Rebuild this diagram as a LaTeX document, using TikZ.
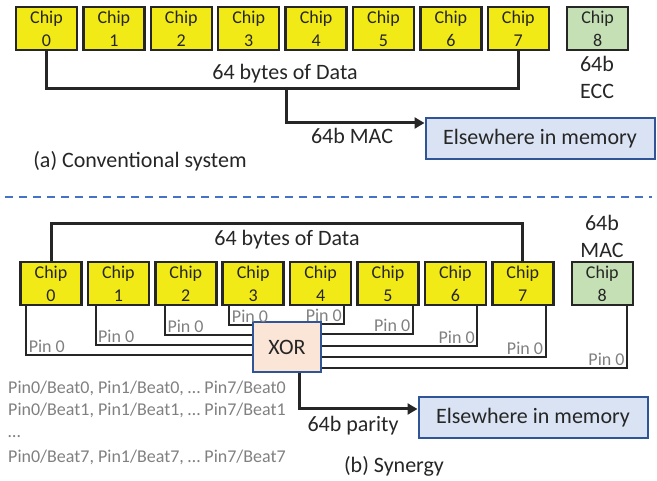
\documentclass[tikz,border=0pt]{standalone}
\usepackage{fontspec}
\setmainfont{Carlito}
\usetikzlibrary{positioning,arrows.meta}
\definecolor{chipyellow}{RGB}{242,234,22}
\definecolor{chipgreen}{RGB}{197,224,180}
\definecolor{memfill}{RGB}{218,227,243}
\definecolor{memdraw}{RGB}{47,85,151}
\definecolor{xorfill}{RGB}{251,229,214}
\definecolor{sepblue}{RGB}{68,114,196}
\definecolor{pingray}{RGB}{128,128,128}
\definecolor{txt}{RGB}{38,38,38}

\begin{document}
\begin{tikzpicture}
[x=1pt,y=-1pt,
 every node/.style={text=txt},
 chip/.style={rectangle,draw=black!85,line width=2.5pt,fill=chipyellow,minimum width=61pt,minimum height=43pt,inner sep=0pt,align=center,font=\fontsize{18}{23}\selectfont},
 ecc/.style={chip,fill=chipgreen},
 mem/.style={rectangle,draw=memdraw,line width=2pt,fill=memfill,minimum width=229pt,minimum height=41pt,font=\fontsize{22}{26}\selectfont},
 xorbox/.style={rectangle,draw=memdraw,line width=2pt,fill=xorfill,minimum width=68pt,minimum height=50pt,font=\fontsize{22}{26}\selectfont},
 lbl/.style={font=\fontsize{22}{26}\selectfont,inner sep=0pt},
 pinlbl/.style={text=pingray,font=\fontsize{18}{20}\selectfont,inner sep=1.5pt},
 beat/.style={text=pingray,font=\fontsize{18}{20}\selectfont,inner sep=0pt,anchor=base west},
 bus/.style={draw=black!85,line width=3pt},
 wire/.style={draw=black!85,line width=2pt},
 >={Triangle[length=10pt,width=11pt]}]
\useasboundingbox (0,0) rectangle (657,481);

% (a) conventional system
\node[chip] (a0) at (46.5,28.5)                {Chip\\0};
\node[chip] (a1) [on grid,right=67.4pt of a0] {Chip\\1};
\node[chip] (a2) [on grid,right=67.4pt of a1] {Chip\\2};
\node[chip] (a3) [on grid,right=67.4pt of a2] {Chip\\3};
\node[chip] (a4) [on grid,right=67.4pt of a3] {Chip\\4};
\node[chip] (a5) [on grid,right=67.4pt of a4] {Chip\\5};
\node[chip] (a6) [on grid,right=67.4pt of a5] {Chip\\6};
\node[chip] (a7) [on grid,right=67.4pt of a6] {Chip\\7};
\node[ecc]  (a8) [on grid,right=79.3pt of a7] {Chip\\8};
\node[mem]  (mem1) at (540,138.5) {Elsewhere in memory};

\node[lbl] (dataA) at (285,74)  {64 bytes of Data};
\node[lbl] (eccA)  at (597,64)  {64b};
\node[lbl] (eccB)  at (597,91)  {ECC};
\node[lbl] (macA)  at (352,136) {64b MAC};
\node[lbl] (capA)  at (140,161) {(a) Conventional system};

\draw[bus] (a0.south) -- ++(0,37) -| (a7.south);
\coordinate (tapA) at (286,87);
\draw[bus,->] (tapA) |- (mem1.west |- 0,123);

\draw[sepblue,line width=1.5pt,dash pattern=on 8pt off 6pt] (5,197) -- (652,197);

% (b) synergy
\node[chip] (b0) at (51,283.5)                 {Chip\\0};
\node[chip] (b1) [on grid,right=67.4pt of b0] {Chip\\1};
\node[chip] (b2) [on grid,right=67.4pt of b1] {Chip\\2};
\node[chip] (b3) [on grid,right=67.4pt of b2] {Chip\\3};
\node[chip] (b4) [on grid,right=67.4pt of b3] {Chip\\4};
\node[chip] (b5) [on grid,right=67.4pt of b4] {Chip\\5};
\node[chip] (b6) [on grid,right=67.4pt of b5] {Chip\\6};
\node[chip] (b7) [on grid,right=67.4pt of b6] {Chip\\7};
\node[ecc]  (b8) [on grid,right=79.5pt of b7] {Chip\\8};
\node[xorbox] (xor) at (287,347) {XOR};
\node[mem]  (mem2) at (533,417.5) {Elsewhere in memory};

\node[lbl] (dataB)   at (287,240) {64 bytes of Data};
\node[lbl] (macB)    at (602,223) {64b};
\node[lbl] (macC)    at (602,250) {MAC};
\node[lbl] (parity)  at (353,426) {64b parity};
\node[lbl] (capB)    at (394,466) {(b) Synergy};

\draw[bus] (b0.north) -- ++(0,-37) -| (b7.north);

\draw[wire] ([xshift=7pt]b0.south west) |- (xor.west |- 0,355) node[pinlbl,pos=0.5,anchor=south west] {Pin 0};
\draw[wire] ([xshift=9pt]b1.south west) |- (xor.west |- 0,345) node[pinlbl,pos=0.5,anchor=south west] {Pin 0};
\draw[wire] ([xshift=11pt]b2.south west) |- (xor.west |- 0,335) node[pinlbl,pos=0.5,anchor=south west] {Pin 0};
\draw[wire] ([xshift=8pt]b3.south west) |- (xor.west |- 0,325) node[pinlbl,pos=0.5,anchor=south west] {Pin 0};
\draw[wire] ([xshift=-8pt]b4.south east) |- (xor.east |- 0,324) node[pinlbl,pos=0.5,anchor=south east] {Pin 0};
\draw[wire] ([xshift=-7pt]b5.south east) |- (xor.east |- 0,334) node[pinlbl,pos=0.5,anchor=south east] {Pin 0};
\draw[wire] ([xshift=-10pt]b6.south east) |- (xor.east |- 0,346) node[pinlbl,pos=0.5,anchor=south east] {Pin 0};
\draw[wire] ([xshift=-9pt]b7.south east) |- (xor.east |- 0,357) node[pinlbl,pos=0.5,anchor=south east] {Pin 0};
\draw[wire] ([xshift=-7pt]b8.south east) |- (xor.east |- 0,368) node[pinlbl,pos=0.5,anchor=south east] {Pin 0};

\draw[bus,->] ([xshift=12pt]xor.south) |- (mem2.west |- 0,409);

\node[beat] (beat0) at (8,394) {Pin0/Beat0, Pin1/Beat0, … Pin7/Beat0};
\node[beat] (beat1) at (8,416) {Pin0/Beat1, Pin1/Beat1, … Pin7/Beat1};
\node[beat] (dots)  at (8,438) {…};
\node[beat] (beat7) at (8,463) {Pin0/Beat7, Pin1/Beat7, … Pin7/Beat7};
\end{tikzpicture}
\end{document}
